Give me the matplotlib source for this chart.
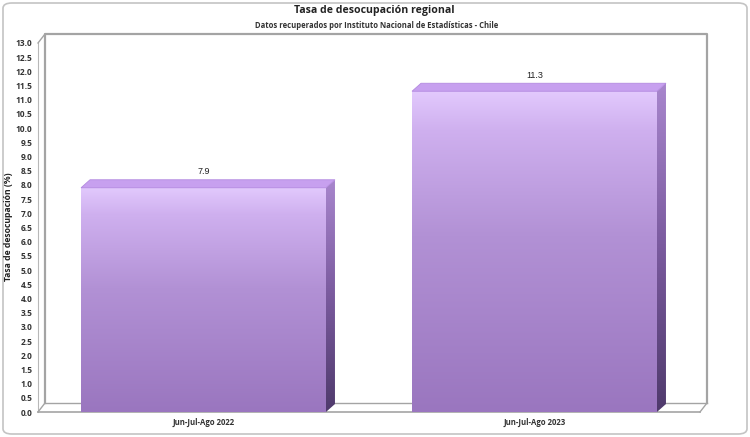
import numpy as np
import matplotlib
matplotlib.use('Agg')
import matplotlib.pyplot as plt
from matplotlib.patches import Polygon, FancyBboxPatch
from matplotlib.colors import LinearSegmentedColormap
import matplotlib.transforms as mtrans

periodos = ['Jun-Jul-Ago 2022', 'Jun-Jul-Ago 2023']
tasas = [7.9, 11.3]
y_ticks = np.arange(0, 13.01, 0.5)

titulo = 'Tasa de desocupación regional'
subtitulo = 'Datos recuperados por Instituto Nacional de Estadísticas - Chile'
eje_y = 'Tasa de desocupación (%)'

W, H = 750, 437
fig = plt.figure(figsize=(W / 100, H / 100), dpi=100)
fig.patch.set_facecolor('white')

# rounded outer frame
frame = FancyBboxPatch((3 / W, 3 / H), 1 - 6 / W, 1 - 6 / H,
                       boxstyle='round,pad=0,rounding_size=0.012',
                       transform=fig.transFigure, fc='none', ec='#c4c4c4', lw=1.2,
                       zorder=-5)
fig.patches.append(frame)

ax_l, ax_r, ax_t, ax_b = 38, 700, 43, 412
ax = fig.add_axes([ax_l / W, (H - ax_b) / H, (ax_r - ax_l) / W, (ax_b - ax_t) / H])
ax.set_xlim(-0.5, 1.5)
ax.set_ylim(0, 13)
ax.patch.set_alpha(0)
for s in ax.spines.values():
    s.set_visible(False)

# depth of the walls (px)
wdx, wdy = 7, 9
off = mtrans.ScaledTranslation(wdx / 100, wdy / 100, fig.dpi_scale_trans)
wall = '#a4a4a4'
back = ax.transAxes + off
ax.add_patch(Polygon([(0, 0), (1, 0), (1, 1), (0, 1)], closed=True, transform=back,
                     fc='white', ec='none', clip_on=False, zorder=0))
ax.plot([0, 0, 1, 1], [0, 1, 1, 0], transform=back, color=wall, lw=1.6,
        clip_on=False, zorder=1)
ax.plot([0, 1], [0, 0], transform=back, color=wall, lw=1.0, clip_on=False, zorder=1)
ax.plot([0, 0], [0, 1], transform=ax.transAxes, color='#b8b8b8', lw=0.8, clip_on=False, zorder=1)
ax.plot([0, 1], [0, 0], transform=ax.transAxes, color=wall, lw=1.2, clip_on=False, zorder=1)

fig.canvas.draw()
for xa, ya in ((0, 0), (1, 0), (0, 1)):
    p0 = ax.transAxes.transform((xa, ya))
    p1 = back.transform((xa, ya))
    q0 = ax.transAxes.inverted().transform(p0)
    q1 = ax.transAxes.inverted().transform(p1)
    ax.plot([q0[0], q1[0]], [q0[1], q1[1]], transform=ax.transAxes, color=wall, lw=1.0,
            clip_on=False, zorder=1)

# bars with gradient + 3d faces
bw = 0.74
bdx, bdy = 9, 8
front_cm = LinearSegmentedColormap.from_list(
    'f', [(0, '#9a76bf'), (0.55, '#b291d5'), (0.88, '#cfb0ef'), (1, '#e2c9fd')])
side_cm = LinearSegmentedColormap.from_list('s', ['#4f3a6c', '#7a5a9e', '#a886cd'])
grad = np.linspace(0, 1, 256).reshape(-1, 1)

inv = ax.transData.inverted()
o = inv.transform(ax.transData.transform((0, 0)) + np.array([bdx, bdy]))
ddx, ddy = o[0], o[1]

for i, v in enumerate(tasas):
    x0, x1 = i - bw / 2, i + bw / 2
    ax.imshow(grad, extent=[x0, x1, 0, v], origin='lower', aspect='auto',
              cmap=front_cm, zorder=3)
    side = Polygon([(x1, 0), (x1 + ddx, ddy), (x1 + ddx, v + ddy), (x1, v)], closed=True,
                   fc='none', ec='none', transform=ax.transData)
    ims = ax.imshow(grad, extent=[x1, x1 + ddx, 0, v + ddy], origin='lower', aspect='auto',
                    cmap=side_cm, zorder=3)
    ims.set_clip_path(side)
    top = Polygon([(x0, v), (x1, v), (x1 + ddx, v + ddy), (x0 + ddx, v + ddy)], closed=True,
                  fc='#c7a0ef', ec='#b48ae0', lw=0.6, clip_on=False, zorder=4)
    ax.add_patch(top)
    ax.text(i, v + ddy + 0.12, f'{v:.1f}', ha='center', va='bottom', fontsize=6.5,
            family='Liberation Sans', color='#222222')

ax.set_xlim(-0.5, 1.5)
ax.set_ylim(0, 13)

ax.set_yticks(y_ticks)
ax.set_yticklabels([f'{t:.1f}' for t in y_ticks], fontsize=6, family='Open Sans',
                   fontweight='bold', color='#333333')
ax.set_xticks(range(len(periodos)))
ax.set_xticklabels(periodos, fontsize=5.6, family='Open Sans', fontweight='bold',
                   color='#333333')
ax.tick_params(axis='y', length=0, pad=4)
ax.tick_params(axis='x', length=0, pad=4)

fig.text(374 / W, 1 - 11 / H, titulo, ha='center', va='center', fontsize=7.6,
         family='Open Sans', fontweight='bold', color='#222222')
fig.text(377 / W, 1 - 25 / H, subtitulo, ha='center', va='center', fontsize=5.5,
         family='Open Sans', fontweight='bold', color='#333333')
fig.text(9 / W, 1 - 227 / H, eje_y, ha='center', va='center', rotation=90, fontsize=6.2,
         family='Open Sans', fontweight='bold', color='#222222')

fig.savefig('out.png', dpi=100)
